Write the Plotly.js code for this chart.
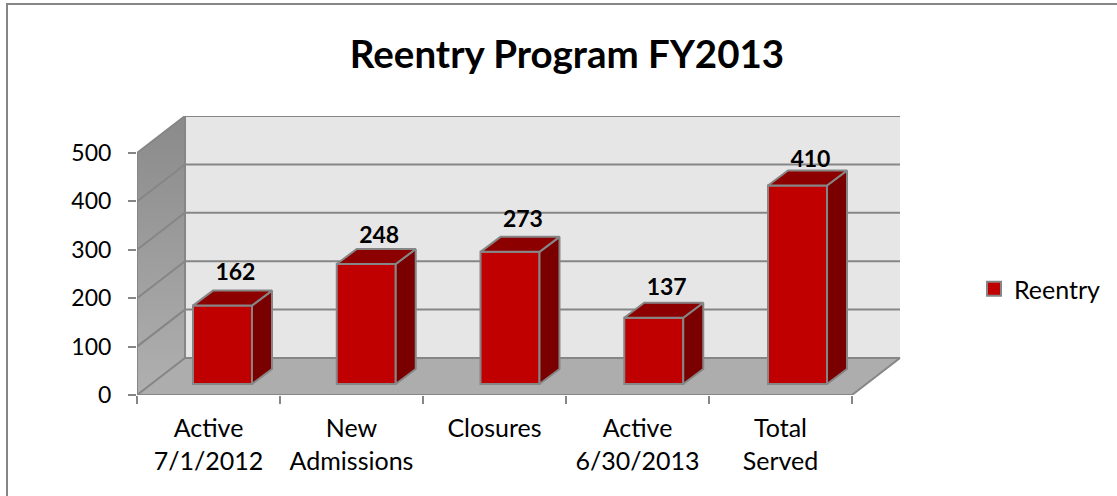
<!DOCTYPE html>
<html><head><meta charset="utf-8">
<script src="https://cdn.plot.ly/plotly-3.0.1.min.js"></script>
<style>html,body{margin:0;padding:0;background:#fff}#c{width:1117px;height:496px}</style></head>
<body><div id="c"></div>
<script>
var categories = ["Active<br>7/1/2012","New<br>Admissions","Closures","Active<br>6/30/2013","Total<br>Served"];
var values = [162,248,273,137,410];
var yTicks = [0,100,200,300,400,500];
var seriesName = "Reentry";
var titleText = "Reentry Program FY2013";

var L=137,R=902,T=116,B=395;
var EDGE="#868686", FONT="Lato, Carlito, sans-serif";
var UNIT=0.484, SLOT=143, BARSLOT=143.75;
var xr=[-0.5,-0.5+(R-L)/SLOT], yr=[0,(B-T)/UNIT];
var DX=48/SLOT, DY=37/UNIT, X0=-0.5, X1=4.5, YMAX=500;
var w=59/BARSLOT, sx=20/BARSLOT, sy=15/UNIT;
var labelLift=[64,56,64,58,50];
var idx=values.map(function(_,i){return i;});

function poly(xs,ys,color,extra){
  var t={type:"scatter",mode:"lines",x:xs,y:ys,fill:"toself",fillcolor:color,
    line:{width:0,color:color},hoverinfo:"skip",showlegend:false,xaxis:"x",yaxis:"y"};
  for(var k in extra)t[k]=extra[k];return t;
}
function lines(xs,ys,width,color){
  return {type:"scatter",mode:"lines",x:xs,y:ys,line:{width:width,color:color||EDGE},
    hoverinfo:"skip",showlegend:false,xaxis:"x",yaxis:"y"};
}
var backWall=poly([X0+DX,X1+DX,X1+DX,X0+DX],[DY,DY,YMAX+DY,YMAX+DY],"#e6e6e6");
var floor=poly([X0,X1,X1+DX,X0+DX],[0,0,DY,DY],"#adadad");
var leftWall=poly([X0,X0+DX,X0+DX,X0],[0,DY,YMAX+DY,YMAX],"#999999",{
  fillgradient:{type:"vertical",colorscale:[[0,"#b0b0b0"],[1,"#8a8a8a"]]}});
var gx=[],gy=[];
yTicks.forEach(function(t){gx.push(X0,X0+DX,X1+DX,null);gy.push(t,t+DY,t+DY,null);});
var grid=lines(gx,gy,2);
var frame=lines([X0+DX,X0+DX,null,X0,X0,null,X0,X1,X1+DX],[DY,YMAX+DY,null,0,YMAX,null,0,0,DY],2);

function faces(fn,color){
  var xs=[],ys=[];
  values.forEach(function(v,i){var p=fn(v,i);xs=xs.concat(p[0],[null]);ys=ys.concat(p[1],[null]);});
  return {type:"scatter",mode:"lines",x:xs,y:ys,fill:"toself",fillcolor:color,
    line:{width:2,color:EDGE},hoverinfo:"skip",showlegend:false,xaxis:"x2",yaxis:"y2"};
}
var side=faces(function(v,i){var a=i+w/2;return [[a,a+sx,a+sx,a,a],[0,sy,v+sy,v,0]];},"#7a0000");
var top_=faces(function(v,i){var a=i-w/2,b=i+w/2;return [[a,b,b+sx,a+sx,a],[v,v,v+sy,v+sy,v]];},"#8c0000");
var bars={type:"bar",x:idx,y:values,name:seriesName,width:w,showlegend:false,
  marker:{color:"#c00000",line:{color:EDGE,width:2}},hoverinfo:"skip",xaxis:"x2",yaxis:"y2"};
var legendKey={type:"scatter",mode:"markers",x:[null],y:[null],name:seriesName,showlegend:true,
  marker:{symbol:"square",size:14,color:"#c00000",line:{color:EDGE,width:2}},hoverinfo:"skip",xaxis:"x2",yaxis:"y2"};
var labels={type:"scatter",mode:"text",x:idx.map(function(i){return i+0.09;}),
  y:values.map(function(v,i){return v+labelLift[i];}),text:values.map(String),
  textfont:{family:FONT,size:23,color:"#000",weight:700},textposition:"middle center",
  hoverinfo:"skip",showlegend:false,cliponaxis:false,xaxis:"x2",yaxis:"y2"};

var bandTicks=[-0.5,0.5,1.5,2.5,3.5,4.5];
var px=function(v,a,b){return (v-a)/(b-a);};
var layout={
  width:1117,height:496,margin:{l:L,r:1117-R,t:T,b:496-B,pad:0,autoexpand:false},
  paper_bgcolor:"#fff",plot_bgcolor:"rgba(0,0,0,0)",showlegend:true,barmode:"overlay",
  font:{family:FONT,color:"#000"},
  title:{text:"<b>"+titleText+"</b>",font:{family:FONT,size:38.5,color:"#000"},
    xref:"container",yref:"container",x:567/1117,y:1-55/496,xanchor:"center",yanchor:"middle"},
  xaxis:{type:"linear",range:xr,tickmode:"array",tickvals:idx,ticktext:categories,ticks:"",
    showgrid:false,zeroline:false,showline:false,tickfont:{family:FONT,size:25,color:"#000"},
    ticklabelstandoff:16,
    minor:{tickmode:"array",tickvals:bandTicks,ticks:"outside",ticklen:8,tickwidth:2,tickcolor:EDGE,showgrid:false}},
  yaxis:{type:"linear",range:yr,tickmode:"array",tickvals:yTicks,ticktext:yTicks.map(String),
    ticks:"outside",ticklen:8,tickwidth:2,tickcolor:EDGE,showgrid:false,zeroline:false,showline:false,
    tickfont:{family:FONT,size:23,color:"#000"},ticklabelstandoff:12},
  xaxis2:{overlaying:"x",anchor:"y2",visible:false,range:[-(222.5-L)/BARSLOT,-(222.5-L)/BARSLOT+(R-L)/BARSLOT]},
  yaxis2:{overlaying:"y",anchor:"x2",visible:false,range:[-11/UNIT,(384-T)/UNIT]},
  legend:{x:(974-L)/(R-L),y:(B-289)/(B-T),xanchor:"left",yanchor:"middle",
    font:{family:FONT,size:25,color:"#000"},bgcolor:"rgba(0,0,0,0)",itemclick:false},
  shapes:[{type:"path",xref:"paper",yref:"paper",layer:"above",
    path:"M"+px(7,L,R)+","+px(B-496,0,B-T)+"L"+px(7,L,R)+","+px(B-4,0,B-T)+"L"+px(1117,L,R)+","+px(B-4,0,B-T),
    line:{color:EDGE,width:2},fillcolor:"rgba(0,0,0,0)"}]
};
Plotly.newPlot("c",[backWall,floor,leftWall,grid,frame,bars,side,top_,labels,legendKey],layout,{displayModeBar:false,staticPlot:true});
</script></body></html>
